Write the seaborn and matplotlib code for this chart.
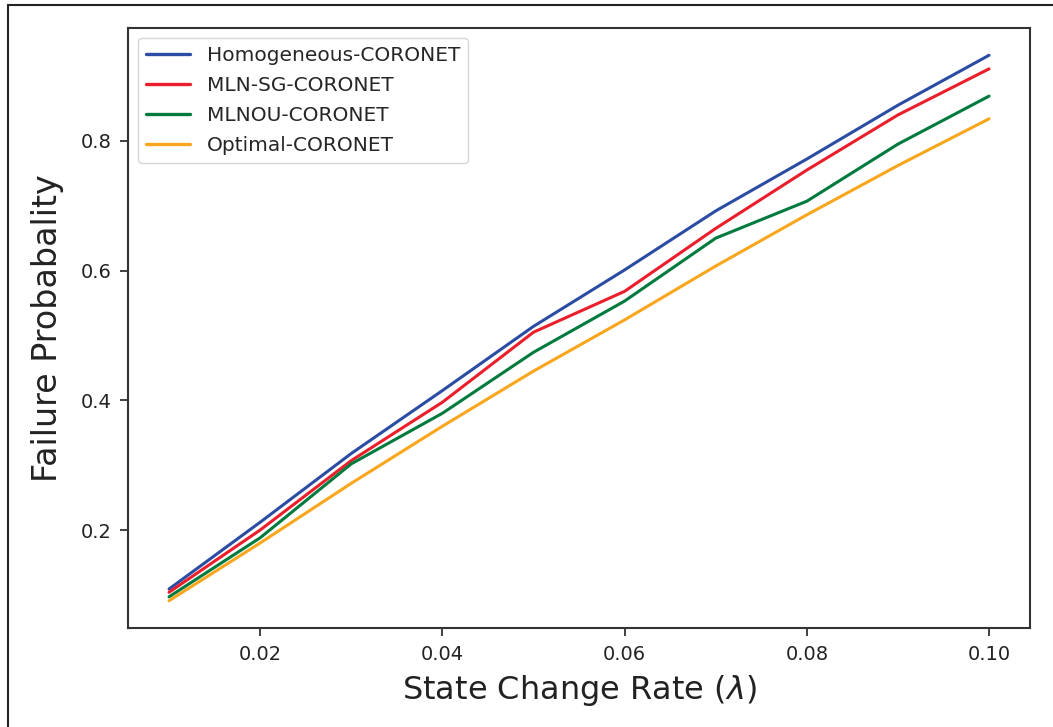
import matplotlib
matplotlib.use("Agg")
import matplotlib.pyplot as plt
import seaborn as sns
import pandas as pd
from matplotlib.lines import Line2D

rates = [0.01, 0.02, 0.03, 0.04, 0.05, 0.06, 0.07, 0.08, 0.09, 0.10]
homogeneous = [0.109, 0.212, 0.318, 0.415, 0.514, 0.601, 0.692, 0.772, 0.855, 0.932]
mln_sg = [0.104, 0.200, 0.307, 0.397, 0.505, 0.568, 0.665, 0.755, 0.840, 0.911]
mlnou = [0.097, 0.188, 0.302, 0.380, 0.474, 0.553, 0.650, 0.707, 0.795, 0.869]
optimal = [0.091, 0.180, 0.272, 0.360, 0.445, 0.524, 0.607, 0.686, 0.762, 0.834]
series_names = ["Homogeneous-CORONET", "MLN-SG-CORONET", "MLNOU-CORONET", "Optimal-CORONET"]
colors = ["#2b4ca3", "#ea1f2b", "#007a3d", "#f9a61c"]

rows = []
for name, vals in zip(series_names, [homogeneous, mln_sg, mlnou, optimal]):
    for x, y in zip(rates, vals):
        rows.append({"rate": x, "prob": y, "method": name})
df = pd.DataFrame(rows)

sns.set_style("ticks")
plt.rcParams["font.family"] = ["DejaVu Sans"]

fig = plt.figure(figsize=(10.53, 7.27), dpi=100)
ax = fig.add_axes([0.1216, 0.1362, 0.8566, 0.8253])

sns.lineplot(data=df, x="rate", y="prob", hue="method", hue_order=series_names,
             palette=colors, linewidth=2.2, ax=ax)

ax.set_xticks([0.02, 0.04, 0.06, 0.08, 0.10])
ax.set_xticklabels(["0.02", "0.04", "0.06", "0.08", "0.10"])
ax.set_yticks([0.2, 0.4, 0.6, 0.8])
ax.tick_params(axis="both", labelsize=14, length=6, width=1.3, color="#333333",
               labelcolor="#222222", pad=6)
ax.set_xlabel("State Change Rate ($\\lambda$)", fontsize=23, color="#222222", labelpad=7)
ax.set_ylabel("Failure Probabality", fontsize=24, color="#222222", labelpad=12)
for s in ax.spines.values():
    s.set_visible(True)
    s.set_color("#333333")
    s.set_linewidth(1.5)

leg = ax.legend(loc="upper left", fontsize=14.5, handlelength=2.2, frameon=True,
                borderaxespad=0.5, labelspacing=0.55, handletextpad=0.8)
leg.get_frame().set_edgecolor("#cccccc")
for line in leg.get_lines():
    line.set_linewidth(2.4)

# outer frame: only left and top edges visible
fig.add_artist(Line2D([8 / 1053, 8 / 1053], [0, 1 - 5 / 727], transform=fig.transFigure,
                      color="#222222", linewidth=1.5))
fig.add_artist(Line2D([8 / 1053, 1], [1 - 5 / 727, 1 - 5 / 727], transform=fig.transFigure,
                      color="#222222", linewidth=1.5))

fig.savefig("out.png", dpi=100)
